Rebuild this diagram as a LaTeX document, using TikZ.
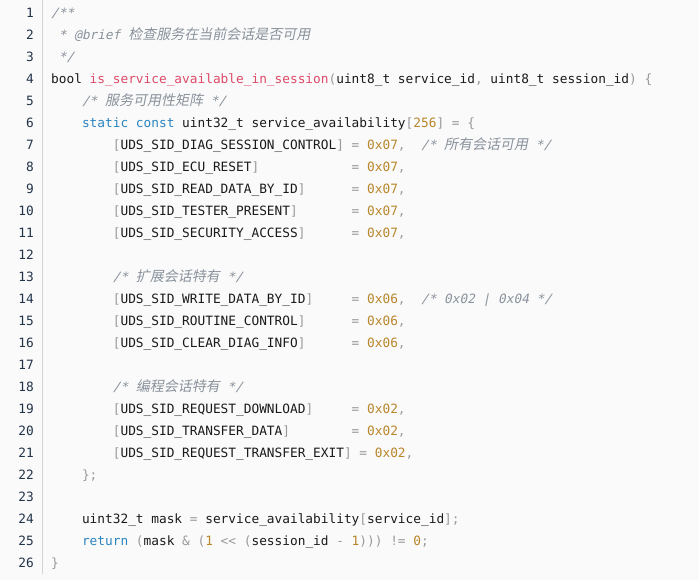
\documentclass[tikz,border=0pt]{standalone}
\usepackage{fontspec}
\usepackage{xcolor}
\setmonofont{DejaVu Sans Mono}
\newfontfamily\codeit{DejaVu Sans Mono}[FakeSlant=0.2]
\newfontfamily\cjkslant{Noto Sans CJK SC}[FakeSlant=0.2]

\definecolor{codebg}{HTML}{FAFAFA}
\definecolor{codetext}{HTML}{1A1A1A}
\definecolor{codelnum}{HTML}{22344A}
\definecolor{codegutter}{HTML}{D4D4D4}
\definecolor{codepunct}{HTML}{999999}
\definecolor{codefunc}{HTML}{DD4A68}
\definecolor{codekw}{HTML}{2A84C0}
\definecolor{codenum}{HTML}{B8862B}
\definecolor{codecmt}{HTML}{8A929C}

\newlength\cw
\setlength\cw{7.706pt}
\newcommand\gap[1]{\hspace*{#1\cw}}
\newcommand\pn[1]{\textcolor{codepunct}{#1}}
\newcommand\fn[1]{\textcolor{codefunc}{#1}}
\newcommand\kw[1]{\textcolor{codekw}{#1}}
\newcommand\nm[1]{\textcolor{codenum}{#1}}
\newcommand\cm[1]{\textcolor{codecmt}{\codeit#1}}
\newcommand\zh[1]{{\fontsize{14}{16}\cjkslant#1}}

\begin{document}
\begin{tikzpicture}[x=1pt,y=-1pt]
\tikzset{
  codeline/.style={anchor=base west, inner sep=0pt, text=codetext,
    font=\ttfamily\fontsize{12.8}{15}\selectfont\frenchspacing},
  lineno/.style={anchor=base east, inner sep=0pt, text=codelnum,
    font=\ttfamily\fontsize{12.8}{15}\selectfont}
}
\fill [codebg] (0,0) rectangle (699,579);
\draw [codegutter, line width=1pt] (42,0) -- (42,573);
% line numbers
\foreach \i in {1,...,26}
  \node [lineno] (ln\i) at (34,{17+22*(\i-1)}) {\i};
% code
\node [codeline] (c1) at (51,17) {\cm{/**}};
\node [codeline] (c2) at (51,39) {\cm{\gap{1}* @brief \zh{检查服务在当前会话是否可用}}};
\node [codeline] (c3) at (51,61) {\cm{\gap{1}*/}};
\node [codeline] (c4) at (51,83) {bool \fn{is\_service\_available\_in\_session}\pn{(}uint8\_t service\_id\pn{,} uint8\_t session\_id\pn{)} \pn{\{}};
\node [codeline] (c5) at (51,105) {\gap{4}\cm{/* \zh{服务可用性矩阵} */}};
\node [codeline] (c6) at (51,127) {\gap{4}\kw{static} \kw{const} uint32\_t service\_availability\pn{[}\nm{256}\pn{]} \pn{=} \pn{\{}};
\node [codeline] (c7) at (51,149) {\gap{8}\pn{[}UDS\_SID\_DIAG\_SESSION\_CONTROL\pn{]} \pn{=} \nm{0x07}\pn{,}\gap{2}\cm{/* \zh{所有会话可用} */}};
\node [codeline] (c8) at (51,171) {\gap{8}\pn{[}UDS\_SID\_ECU\_RESET\pn{]}\gap{12}\pn{=} \nm{0x07}\pn{,}};
\node [codeline] (c9) at (51,193) {\gap{8}\pn{[}UDS\_SID\_READ\_DATA\_BY\_ID\pn{]}\gap{6}\pn{=} \nm{0x07}\pn{,}};
\node [codeline] (c10) at (51,215) {\gap{8}\pn{[}UDS\_SID\_TESTER\_PRESENT\pn{]}\gap{7}\pn{=} \nm{0x07}\pn{,}};
\node [codeline] (c11) at (51,237) {\gap{8}\pn{[}UDS\_SID\_SECURITY\_ACCESS\pn{]}\gap{6}\pn{=} \nm{0x07}\pn{,}};
\node [codeline] (c13) at (51,281) {\gap{8}\cm{/* \zh{扩展会话特有} */}};
\node [codeline] (c14) at (51,303) {\gap{8}\pn{[}UDS\_SID\_WRITE\_DATA\_BY\_ID\pn{]}\gap{5}\pn{=} \nm{0x06}\pn{,}\gap{2}\cm{/* 0x02 | 0x04 */}};
\node [codeline] (c15) at (51,325) {\gap{8}\pn{[}UDS\_SID\_ROUTINE\_CONTROL\pn{]}\gap{6}\pn{=} \nm{0x06}\pn{,}};
\node [codeline] (c16) at (51,347) {\gap{8}\pn{[}UDS\_SID\_CLEAR\_DIAG\_INFO\pn{]}\gap{6}\pn{=} \nm{0x06}\pn{,}};
\node [codeline] (c18) at (51,391) {\gap{8}\cm{/* \zh{编程会话特有} */}};
\node [codeline] (c19) at (51,413) {\gap{8}\pn{[}UDS\_SID\_REQUEST\_DOWNLOAD\pn{]}\gap{5}\pn{=} \nm{0x02}\pn{,}};
\node [codeline] (c20) at (51,435) {\gap{8}\pn{[}UDS\_SID\_TRANSFER\_DATA\pn{]}\gap{8}\pn{=} \nm{0x02}\pn{,}};
\node [codeline] (c21) at (51,457) {\gap{8}\pn{[}UDS\_SID\_REQUEST\_TRANSFER\_EXIT\pn{]} \pn{=} \nm{0x02}\pn{,}};
\node [codeline] (c22) at (51,479) {\gap{4}\pn{\};}};
\node [codeline] (c24) at (51,523) {\gap{4}uint32\_t mask \pn{=} service\_availability\pn{[}service\_id\pn{];}};
\node [codeline] (c25) at (51,545) {\gap{4}\kw{return} \pn{(}mask \pn{\&} \pn{(}\nm{1} \pn{<<} \pn{(}session\_id \pn{-} \nm{1}\pn{)))} \pn{!=} \nm{0}\pn{;}};
\node [codeline] (c26) at (51,567) {\pn{\}}};
\end{tikzpicture}
\end{document}
